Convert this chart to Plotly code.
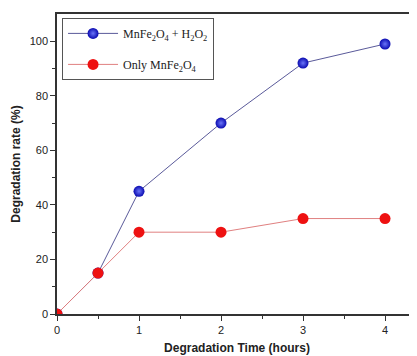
import plotly.graph_objects as go

time_h = [0, 0.5, 1, 2, 3, 4]
with_h2o2 = [0, 15, 45, 70, 92, 99]
only_mnfe = [0, 15, 30, 30, 35, 35]

fig = go.Figure()
fig.add_trace(go.Scatter(
    x=time_h, y=with_h2o2, mode="lines+markers",
    name="MnFe<sub>2</sub>O<sub>4</sub> + H<sub>2</sub>O<sub>2</sub>",
    legendgroup="a",
    line=dict(color="#5a5a9a", width=1),
    marker=dict(size=11, color="#0a0ab0",
                gradient=dict(type="radial", color="#6a74f8"),
                line=dict(width=0)),
))
fig.add_trace(go.Scatter(
    x=time_h, y=only_mnfe, mode="lines+markers",
    name="Only MnFe<sub>2</sub>O<sub>4</sub>",
    legendgroup="b",
    line=dict(color="#e08080", width=1),
    marker=dict(size=11, color="#ee1111", line=dict(width=0)),
))

fig.update_layout(
    width=417, height=348,
    margin=dict(l=49, r=8, t=6, b=42),
    paper_bgcolor="white", plot_bgcolor="white",
    font=dict(family="Liberation Sans, Arial", size=11, color="#222"),
    showlegend=True,
    legend=dict(
        x=0.014, y=0.987, xanchor="left", yanchor="top",
        bgcolor="white", bordercolor="#555", borderwidth=1,
        font=dict(family="Liberation Serif, Times New Roman", size=12, color="#222"),
        tracegroupgap=12, itemwidth=50,
    ),
    xaxis=dict(
        range=[0, 4.39], tickvals=[0, 1, 2, 3, 4], automargin=False,
        showline=True, linecolor="#333", linewidth=1.5, mirror=True,
        ticks="outside", ticklen=5, tickcolor="#333", showgrid=False, zeroline=False,
        minor=dict(tickvals=[0.5, 1.5, 2.5, 3.5], ticks="outside", ticklen=3, tickcolor="#333"),
        title=dict(text="<b>Degradation Time (hours)</b>", font=dict(size=12), standoff=9),
    ),
    yaxis=dict(
        range=[0, 110], tickvals=[0, 20, 40, 60, 80, 100], automargin=False,
        showline=True, linecolor="#333", linewidth=1.5,
        ticks="outside", ticklen=5, tickcolor="#333", showgrid=False, zeroline=False,
        minor=dict(tickvals=[10, 30, 50, 70, 90], ticks="outside", ticklen=3, tickcolor="#333"),
        title=dict(text="<b>Degradation rate (%)</b>", font=dict(size=12), standoff=6),
    ),
)

fig.write_html("out.html")
